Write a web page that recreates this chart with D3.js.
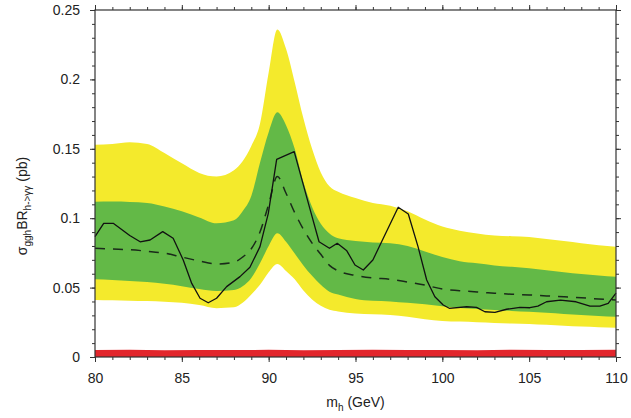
<!DOCTYPE html>
<html><head><meta charset="utf-8">
<script src="https://cdn.jsdelivr.net/npm/d3@7"></script>
<style>
html,body{margin:0;padding:0;background:#fff;}
svg{display:block;font-family:"Liberation Sans",Arial,Helvetica,sans-serif;}
</style></head>
<body><svg id="c" width="631" height="418"></svg>
<script>
// ---- data ----
const bandMass = [80,81,82,83,84,85,86,87,88,88.5,89,89.5,90,90.5,91,91.5,92,92.5,93,93.5,94,95,96,97,98,99,100,101,102,103,104,105,106,107,108,109,110];
const yellowHi = [0.153,0.1535,0.1547,0.1535,0.147,0.1395,0.1326,0.130,0.1345,0.141,0.152,0.168,0.205,0.236,0.222,0.198,0.172,0.150,0.133,0.123,0.119,0.1145,0.111,0.109,0.105,0.099,0.094,0.091,0.089,0.0875,0.087,0.0865,0.085,0.0835,0.082,0.0805,0.0795];
const greenHi  = [0.1119,0.112,0.1117,0.111,0.1085,0.105,0.1005,0.0963,0.0985,0.105,0.116,0.140,0.162,0.1763,0.167,0.150,0.126,0.108,0.096,0.089,0.0855,0.0835,0.0825,0.082,0.080,0.076,0.072,0.069,0.0675,0.066,0.065,0.064,0.0625,0.061,0.0598,0.0588,0.0579];
const greenLo  = [0.056,0.0555,0.0548,0.054,0.0527,0.051,0.049,0.0476,0.0483,0.051,0.057,0.0675,0.080,0.0891,0.083,0.0745,0.066,0.0585,0.052,0.047,0.045,0.0418,0.0405,0.040,0.039,0.038,0.0365,0.0353,0.0345,0.0338,0.0332,0.0326,0.0318,0.031,0.0303,0.0296,0.029];
const yellowLo = [0.041,0.0408,0.0406,0.0403,0.0398,0.039,0.0375,0.0352,0.0358,0.039,0.045,0.052,0.061,0.067,0.062,0.056,0.048,0.0415,0.037,0.034,0.0328,0.0314,0.0308,0.0303,0.029,0.0272,0.026,0.0255,0.025,0.0245,0.0241,0.0238,0.0232,0.0226,0.022,0.0215,0.0211];
const expected = [0.0783,0.0778,0.0773,0.0762,0.0748,0.072,0.0692,0.067,0.0683,0.072,0.078,0.09,0.11,0.13,0.118,0.104,0.092,0.082,0.074,0.066,0.062,0.0588,0.057,0.056,0.054,0.0518,0.049,0.0478,0.0468,0.046,0.0452,0.0447,0.044,0.0434,0.0427,0.0418,0.041];

const obsMass = [80,80.5,81.05,82,82.6,83.17,83.9,84.5,85.08,85.57,86.05,86.52,87,87.58,88.35,88.92,89.5,89.98,90.46,91.47,92.38,92.9,93.5,93.95,94.5,94.97,95.45,96,96.6,97.46,98.04,98.6,99.1,99.57,100.05,100.4,101.4,101.97,102.45,103.03,103.7,104.47,105.04,105.5,106,106.8,107.7,108.5,109.07,109.55,110];
const observed = [0.0867,0.0963,0.0963,0.0875,0.083,0.0843,0.0903,0.0855,0.0699,0.053,0.0423,0.0391,0.0423,0.0507,0.0579,0.0646,0.0795,0.1035,0.1424,0.148,0.1065,0.083,0.0783,0.0819,0.0765,0.0663,0.0627,0.0699,0.0855,0.1079,0.103,0.0795,0.0555,0.0434,0.0375,0.0351,0.0362,0.0358,0.0326,0.0322,0.0344,0.0358,0.0355,0.0367,0.0398,0.041,0.0398,0.0367,0.0367,0.0387,0.046];

const redMass = [80,82,84,86,88,90,92,94,96,98,100,102,104,106,108,110];
const redHi   = [0.0050,0.0052,0.0049,0.0051,0.0050,0.0052,0.0049,0.0051,0.0052,0.0050,0.0051,0.0049,0.0052,0.0050,0.0051,0.0052];

const xTicks = [80,85,90,95,100,105,110];
const yTicks = [0,0.05,0.1,0.15,0.2,0.25];
const yTickLabels = ["0","0.05","0.1","0.15","0.2","0.25"];

// ---- chart ----
const svg = d3.select("#c");
const x = d3.scaleLinear().domain([80,110]).range([95,616]);
const y = d3.scaleLinear().domain([0,0.25]).range([357,10]);

const band = (lo, hi) => d3.area()
  .x((d,i)=>x(bandMass[i])).y0((d,i)=>y(lo[i])).y1((d,i)=>y(hi[i]))
  .curve(d3.curveMonotoneX)(bandMass);

svg.append("path").attr("d", band(yellowLo, yellowHi)).attr("fill","#f4ea2c");
svg.append("path").attr("d", band(greenLo, greenHi)).attr("fill","#63b947");

svg.append("path")
  .attr("d", d3.area().x((d,i)=>x(redMass[i])).y0(y(0)).y1((d,i)=>y(redHi[i]))(redMass))
  .attr("fill","#e2262c");

svg.append("path")
  .attr("d", d3.line().x((d,i)=>x(bandMass[i])).y((d,i)=>y(expected[i])).curve(d3.curveMonotoneX)(bandMass))
  .attr("fill","none").attr("stroke","#1a2a1a").attr("stroke-width",1.5).attr("stroke-dasharray","10,8");

svg.append("path")
  .attr("d", d3.line().x((d,i)=>x(obsMass[i])).y((d,i)=>y(observed[i]))(obsMass))
  .attr("fill","none").attr("stroke","#111").attr("stroke-width",1.3).attr("stroke-linejoin","round");

// axes
const minorX = d3.range(80,111,1);
const minorY = d3.range(0,0.2501,0.01);
const axColor = "#333";

function styleAxis(g){
  g.select(".domain").remove();
  g.selectAll(".tick line").attr("stroke",axColor);
  g.selectAll(".tick text").attr("fill","#222").style("font-size","14px");
}

svg.append("g").attr("transform","translate(0,357)")
  .call(d3.axisBottom(x).tickValues(minorX).tickSize(3).tickFormat(""))
  .call(styleAxis);
svg.append("g").attr("transform","translate(0,357)")
  .call(d3.axisBottom(x).tickValues(xTicks).tickSize(5).tickPadding(11).tickFormat(d3.format("d")))
  .call(styleAxis);
svg.append("g").attr("transform","translate(0,10)")
  .call(d3.axisTop(x).tickValues(minorX).tickSize(3).tickFormat(""))
  .call(styleAxis);
svg.append("g").attr("transform","translate(0,10)")
  .call(d3.axisTop(x).tickValues(xTicks).tickSize(5).tickFormat(""))
  .call(styleAxis);
svg.append("g").attr("transform","translate(95,0)")
  .call(d3.axisLeft(y).tickValues(minorY).tickSize(3).tickFormat(""))
  .call(styleAxis);
svg.append("g").attr("transform","translate(95,0)")
  .call(d3.axisLeft(y).tickValues(yTicks).tickSize(5).tickPadding(10).tickFormat((d,i)=>yTickLabels[i]))
  .call(styleAxis);
svg.append("g").attr("transform","translate(616,0)")
  .call(d3.axisRight(y).tickValues(minorY).tickSize(3).tickFormat(""))
  .call(styleAxis);
svg.append("g").attr("transform","translate(616,0)")
  .call(d3.axisRight(y).tickValues(yTicks).tickSize(5).tickFormat(""))
  .call(styleAxis);

svg.append("rect").attr("x",95).attr("y",10).attr("width",521).attr("height",347)
  .attr("fill","none").attr("stroke",axColor).attr("stroke-width",1.2);

// axis titles
const xt = svg.append("text").attr("x",355.5).attr("y",407).attr("text-anchor","middle")
  .attr("fill","#222").style("font-size","14px");
xt.append("tspan").text("m");
xt.append("tspan").attr("dy",4).style("font-size","10px").text("h");
xt.append("tspan").attr("dy",-4).text(" (GeV)");

const yt = svg.append("text").attr("transform","translate(27,206) rotate(-90)")
  .attr("text-anchor","middle").attr("fill","#222").style("font-size","14px");
yt.append("tspan").text("σ");
yt.append("tspan").attr("dy",4).style("font-size","10px").text("ggh");
yt.append("tspan").attr("dy",-4).text("BR");
yt.append("tspan").attr("dy",4).style("font-size","10px").text("h->γγ");
yt.append("tspan").attr("dy",-4).text(" (pb)");
</script></body></html>
